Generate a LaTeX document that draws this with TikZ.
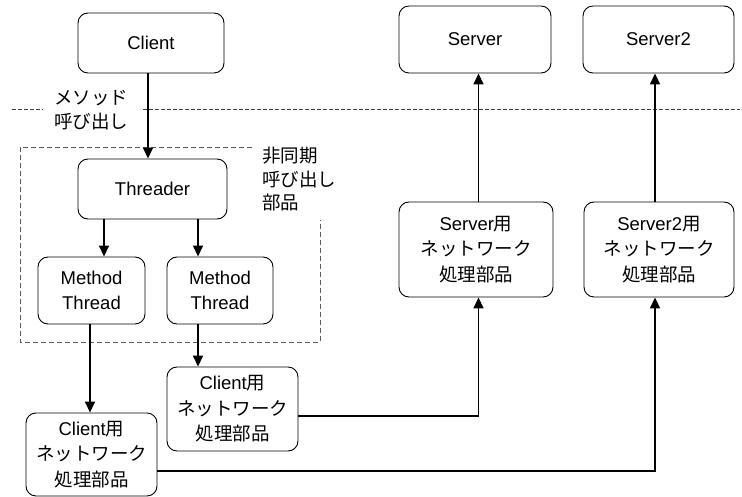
\documentclass[tikz,border=0pt]{standalone}
\usepackage{fontspec}
\setmainfont{Liberation Sans}
\newfontfamily\jp{Noto Sans CJK JP}
\usetikzlibrary{arrows.meta,positioning,calc}
\begin{document}
\begin{tikzpicture}[x=1pt,y=-1pt,
  box/.style={draw=black,line width=0.9pt,rounded corners=10pt,fill=white,align=center,inner sep=0pt,
    font=\fontsize{18.5}{25.5}\selectfont},
  arr/.style={line width=1.6pt,-{Triangle[length=11pt,width=10pt]}},
  wire/.style={line width=1.6pt},
  sep/.style={dash pattern=on 4pt off 2pt,line width=0.8pt,draw=black!75},
  grp/.style={dash pattern=on 5pt off 3pt,line width=0.9pt,draw=black!65},
  lbl/.style={align=left,inner sep=0pt,font=\fontsize{18.5}{23.5}\selectfont\jp},
  lblc/.style={align=center,inner sep=0pt,font=\fontsize{18.5}{24}\selectfont\jp}]
\useasboundingbox (0,0) rectangle (742,497);
% separator line
\coordinate (s1) at (12,109);
\coordinate (s2) at (43,109);
\coordinate (s3) at (143,109);
\coordinate (s4) at (740,109);
\draw[sep] (s1) -- (s2);
\draw[sep] (s3) -- (s4);
\node[lblc] (mcall) at (91,110) {メソッド\\呼び出し};
% group
\coordinate (g1) at (252,147);
\coordinate (g2) at (20,147);
\coordinate (g3) at (20,342);
\coordinate (g4) at (320,342);
\coordinate (g5) at (320,220);
\draw[grp] (g1) -- (g2) -- (g3) -- (g4) -- (g5);
\node[lbl,anchor=north west] (async) at (262,147) {非同期\\呼び出し\\部品};
% nodes
\node[box,minimum width=146pt,minimum height=60pt] (client) at (151,43) {Client};
\node[box,minimum width=152pt,minimum height=67pt] (server) at (475,39.5) {Server};
\node[box,minimum width=151pt,minimum height=67pt] (server2) at (658.5,39.5) {Server2};
\node[box,minimum width=149pt,minimum height=60pt] (threader) at (152.5,189) {Threader};
\node[box,minimum width=107pt,minimum height=67pt] (mt1) at (91.5,290.5) {Method\\Thread};
\node[box,minimum width=106pt,minimum height=67pt] (mt2) at (220,290.5) {Method\\Thread};
\node[box,minimum width=154pt,minimum height=95pt] (svnet) at (476,249.5) {Server{\jp 用}\\{\jp ネットワーク}\\{\jp 処理部品}};
\node[box,minimum width=150pt,minimum height=95pt] (sv2net) at (659,249.5) {Server2{\jp 用}\\{\jp ネットワーク}\\{\jp 処理部品}};
\node[box,minimum width=131pt,minimum height=84pt] (cnet2) at (232.5,409) {Client{\jp 用}\\{\jp ネットワーク}\\{\jp 処理部品}};
\node[box,minimum width=131pt,minimum height=83pt] (cnet1) at (91.5,454.5) {Client{\jp 用}\\{\jp ネットワーク}\\{\jp 処理部品}};
% x guides
\coordinate (xa) at (148,0);
\coordinate (xb) at (104,0);
\coordinate (xc) at (198,0);
\coordinate (xd) at (90,0);
\coordinate (xe) at (478.5,0);
\coordinate (xf) at (655,0);
\coordinate (ya) at (0,416);
\coordinate (yb) at (0,471);
% connectors
\draw[arr] (client.south -| xa) -- (threader.north -| xa);
\draw[arr] (threader.south -| xb) -- (mt1.north -| xb);
\draw[arr] (threader.south -| xc) -- (mt2.north -| xc);
\draw[arr] (mt1.south -| xd) -- (cnet1.north -| xd);
\draw[arr] (mt2.south -| xc) -- (cnet2.north -| xc);
\draw[arr] (cnet2.east |- ya) -- (xe |- ya) -- (svnet.south -| xe);
\draw[arr] (cnet1.east |- yb) -- (xf |- yb) -- (sv2net.south -| xf);
\draw[arr] (svnet.north -| xe) -- (server.south -| xe);
\draw[arr] (sv2net.north -| xf) -- (server2.south -| xf);
\end{tikzpicture}
\end{document}
